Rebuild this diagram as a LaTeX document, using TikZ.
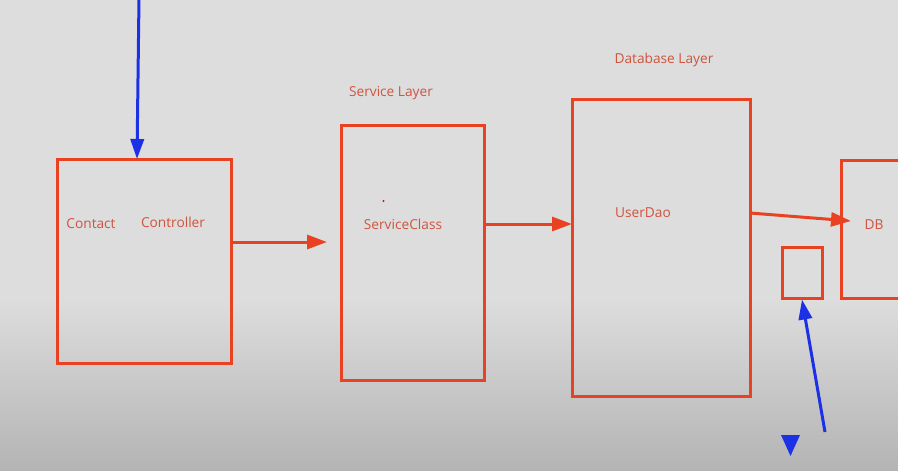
\documentclass[tikz,border=0pt]{standalone}
\usepackage{fontspec}
\setmainfont{Open Sans}
\usepackage{tikz}
\usetikzlibrary{arrows.meta,positioning,calc}
\definecolor{boxRed}{RGB}{232,66,34}
\definecolor{textRed}{RGB}{206,84,62}
\definecolor{penBlue}{RGB}{28,48,230}
\definecolor{bgTop}{RGB}{221,221,221}
\definecolor{bgBottom}{RGB}{180,180,180}

\begin{document}
\begin{tikzpicture}[x=0.03cm,y=-0.03cm]
	%defines
	\tikzstyle{layerBox} = [rectangle, draw=boxRed, line width=0.09cm, inner sep=0pt]
	\tikzstyle{controllerBox} = [layerBox, minimum width=5.19cm, minimum height=6.12cm]
	\tikzstyle{serviceBox} = [layerBox, minimum width=4.29cm, minimum height=7.62cm]
	\tikzstyle{daoBox} = [layerBox, minimum width=5.34cm, minimum height=8.88cm]
	\tikzstyle{dbBox} = [layerBox, minimum width=4.2cm, minimum height=4.14cm]
	\tikzstyle{tinyBox} = [layerBox, minimum width=1.2cm, minimum height=1.53cm]
	\tikzstyle{label} = [text=textRed, font=\fontsize{11.7}{13}\selectfont, inner sep=0pt]
	\tikzstyle{arrow} = [draw=boxRed, line width=0.09cm, -{Triangle[length=0.6cm,width=0.42cm]}, boxRed]
	\tikzstyle{blueArrow} = [draw=penBlue, line width=0.09cm, -{Triangle[length=0.6cm,width=0.4cm]}, penBlue]
	%background
	\useasboundingbox (0,0) rectangle (898,470);
	\fill[bgTop] (0,0) rectangle (898,300);
	\shade[top color=bgTop, bottom color=bgBottom] (0,299) rectangle (898,470);
	\clip (0,0) rectangle (898,470);
	%chart
	\node (controller) [controllerBox] at (144.5,261) {};
	\node (service) [serviceBox] at (412.5,253) {};
	\node (userDao) [daoBox] at (661,248) {};
	\node (cache) [tinyBox] at (802,272.5) {};
	\node (db) [dbBox] at (911,229) {};
	\node (contactText) [label] at (91,224) {Contact};
	\node (controllerText) [label] at (173,222) {Controller};
	\node (serviceLayer) [label] at (391,93) {Service Layer};
	\node (serviceClass) [label] at (403,224) {ServiceClass};
	\node (databaseLayer) [label] at (664,60) {Database Layer};
	\node (userDaoText) [label] at (643,213) {UserDao};
	\node (dbText) [label] at (874,225) {DB};
	\fill[red] (383.5,201) circle (1.1);
	%connectors
	\coordinate (svcIn) at (327,242);
	\coordinate (daoIn) at (572,224);
	\coordinate (daoOut) at (750,213);
	\coordinate (dbIn) at (851,221);
	\coordinate (topPen) at (139,-2);
	\coordinate (ctrlIn) at (137,159);
	\coordinate (bottomPen) at (825,432);
	\draw [arrow] (controller.east |- svcIn) -- (svcIn);
	\draw [arrow] (service.east |- daoIn) -- (daoIn);
	\draw [arrow] (daoOut) -- (dbIn);
	\draw [blueArrow] (topPen) -- (ctrlIn);
	\draw [blueArrow] (bottomPen) -- (cache.south);
	\fill[penBlue] (781,435) -- (800,435) -- (790.5,456) -- cycle;
\end{tikzpicture}
\end{document}
